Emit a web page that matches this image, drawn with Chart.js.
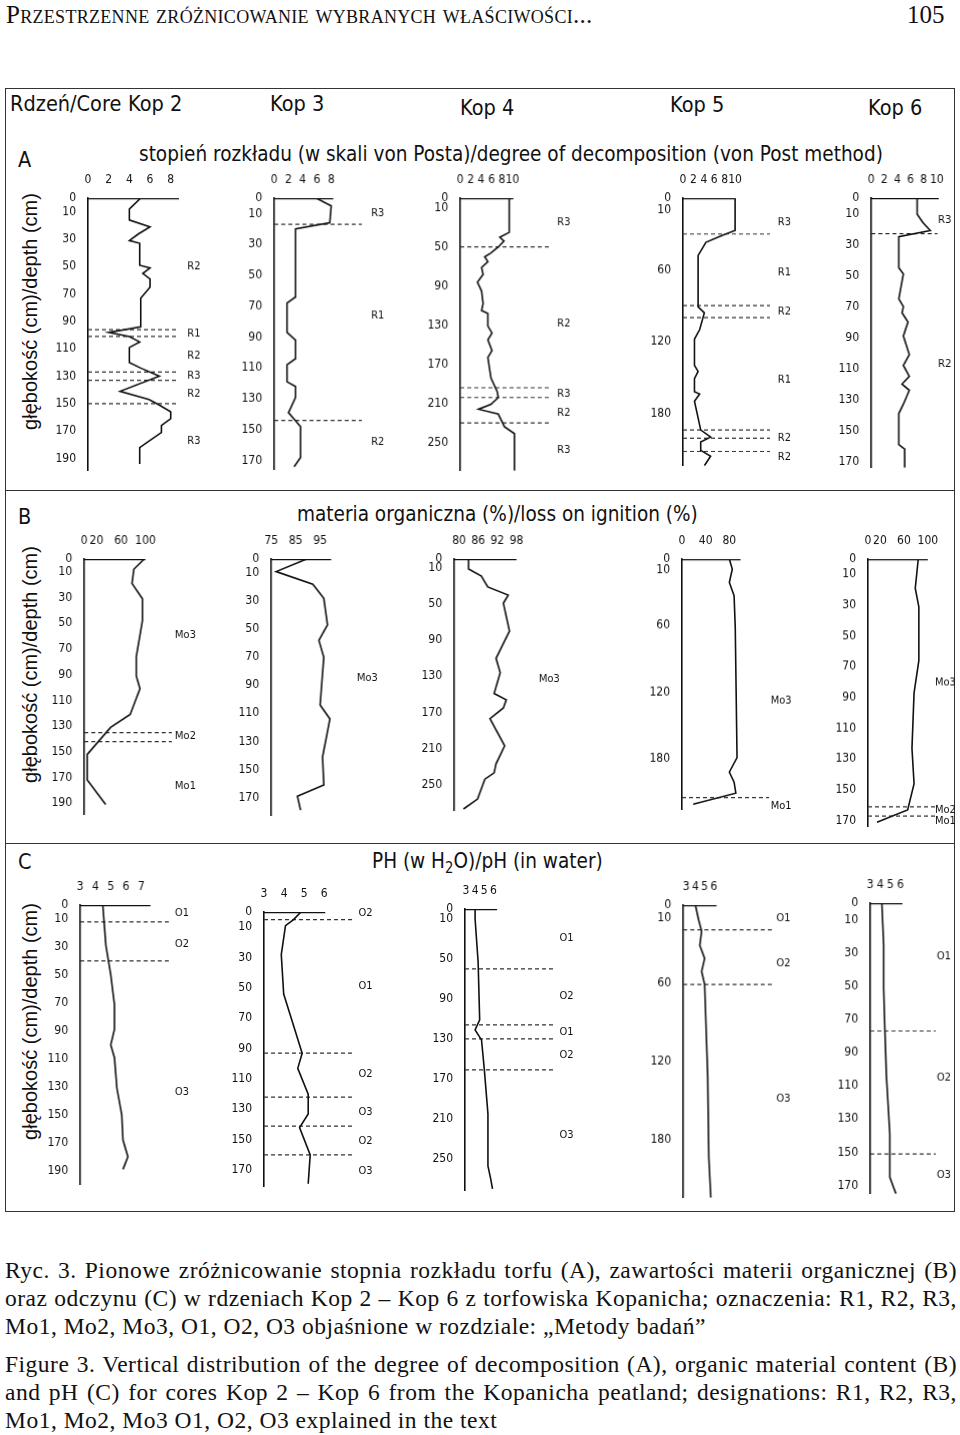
<!DOCTYPE html>
<html>
<head>
<meta charset="utf-8">
<script src="https://cdn.jsdelivr.net/npm/chart.js@4.4.7/dist/chart.umd.min.js"></script>
<style>
  body { margin: 0; width: 960px; height: 1435px; background: #fff; position: relative; overflow: hidden; }
  .abs { position: absolute; white-space: nowrap; color: #111; }
  .cond { font-family: "DejaVu Sans", sans-serif; transform: scaleX(0.88); transform-origin: left top; }
  .serif { font-family: "Liberation Serif", "DejaVu Serif", serif; }
  .rot { font-family: "Liberation Sans", sans-serif; font-size: 20px; transform: rotate(-90deg); transform-origin: center; width: 260px; text-align: center; }
  canvas { position: absolute; }
  #frame { position: absolute; left: 5px; top: 88px; width: 950px; height: 1124px; border: 1.5px solid #333; box-sizing: border-box; }
  .sep { position: absolute; left: 5px; width: 950px; border-top: 1.5px solid #333; }
  .cap { font-family: "Liberation Serif", "DejaVu Serif", serif; font-size: 23.5px; letter-spacing: 0.5px; line-height: 28px; color: #111; position: absolute; left: 5px; width: 952px; text-align: justify; }
</style>
</head>
<body>
<div class="abs serif" style="left:6px;top:1px;font-size:25px;font-variant:small-caps;letter-spacing:0.3px">Przestrzenne zróżnicowanie wybranych właściwości...</div>
<div class="abs serif" style="left:907px;top:1px;font-size:25px">105</div>
<div id="frame"></div>
<div class="sep" style="top:490px"></div>
<div class="sep" style="top:843px"></div>

<div class="abs cond" style="left:10px;top:91px;font-size:22px">Rdzeń/Core</div>
<div class="abs cond" style="left:128px;top:91px;font-size:22px">Kop 2</div>
<div class="abs cond" style="left:270px;top:91px;font-size:22px">Kop 3</div>
<div class="abs cond" style="left:460px;top:95px;font-size:22px">Kop 4</div>
<div class="abs cond" style="left:670px;top:92px;font-size:22px">Kop 5</div>
<div class="abs cond" style="left:868px;top:95px;font-size:22px">Kop 6</div>

<div class="abs cond" style="left:18px;top:147px;font-size:22px">A</div>
<div class="abs cond" style="left:139px;top:142px;font-size:21px">stopień rozkładu (w skali von Posta)/degree of decomposition (von Post method)</div>
<div class="abs cond" style="left:18px;top:504px;font-size:22px">B</div>
<div class="abs cond" style="left:297px;top:502px;font-size:21px">materia organiczna (%)/loss on ignition (%)</div>
<div class="abs cond" style="left:18px;top:849px;font-size:22px">C</div>
<div class="abs cond" style="left:372px;top:849px;font-size:21px">PH (w H<sub style="font-size:15px">2</sub>O)/pH (in water)</div>

<div class="abs rot" style="left:-100px;top:300px">głębokość (cm)/depth (cm)</div>
<div class="abs rot" style="left:-100px;top:653px">głębokość (cm)/depth (cm)</div>
<div class="abs rot" style="left:-100px;top:1010px">głębokość (cm)/depth (cm)</div>

<div class="cap" style="top:1256px">Ryc. 3. Pionowe zróżnicowanie stopnia rozkładu torfu (A), zawartości materii organicznej (B) oraz odczynu (C) w rdzeniach Kop 2 – Kop 6 z torfowiska Kopanicha; oznaczenia: R1, R2, R3, Mo1, Mo2, Mo3, O1, O2, O3 objaśnione w rozdziale: „Metody badań”</div>
<div class="cap" style="top:1350px">Figure 3. Vertical distribution of the degree of decomposition (A), organic material content (B) and pH (C) for cores Kop 2 – Kop 6 from the Kopanicha peatland; designations: R1, R2, R3, Mo1, Mo2, Mo3 O1, O2, O3 explained in the text</div>

<script>
// ---- Row A: degree of decomposition ----
const a2Depth = [0,8,16,21,26,31,33,49,51,55,59,65,73,94,98,101,105,109,120,124,130,141,147,151,156,161,166,171,182,194];
const a2Value = [5.1,4,4,6,4.9,4,5,5,6,5.3,6,6,5.1,5.1,2,4,5,4,4,5.1,6.9,3.1,5.9,6.9,8,8,7.1,7.1,5,5];
const a2Bounds = [96,101,127,133,150];
const a2Zones = ['R2','R1','R2','R3','R2','R3'];
const a2ZoneDepths = [50,99,115,130,143,177];
const a2XTicks = [0,2,4,6,8];
const a2YTicks = [0,10,30,50,70,90,110,130,150,170,190];

const a3Depth = [0,5,16,20,64,68,87,92,104,108,119,122,129,139,148,168,174];
const a3Value = [5.9,8,7.8,3,3,1.8,1.8,3,3,1.8,1.8,3,3,2,3.7,3.7,2.8];
const a3Bounds = [17,144];
const a3Zones = ['R3','R1','R2'];
const a3ZoneDepths = [10,76,158];
const a3XTicks = [0,2,4,6,8];
const a3YTicks = [0,10,30,50,70,90,110,130,150,170];

const a4Depth = [0,35,40,44,50,56,60,65,71,78,86,95,108,115,118,131,138,145,156,163,184,198,204,211,216,221,234,241,279];
const a4Value = [9.4,9.4,7.6,8.4,7.3,5.9,4.7,5.3,4.1,4.4,3.3,4.1,4.4,4.1,5.3,5.3,6.1,5.3,6.1,5.3,5.9,7.1,7.3,5.9,3.5,7.3,8.5,10.4,10.4];
const a4Bounds = [50,194,204,230];
const a4Zones = ['R3','R2','R3','R2','R3'];
const a4ZoneDepths = [25,128,200,220,258];
const a4XTicks = [0,2,4,6,8,10];
const a4YTicks = [0,10,50,90,130,170,210,250];

const a5Depth = [0,27,31,37,48,91,96,110,118,140,145,151,162,164,170,184,194,200,204,211,216,224];
const a5Value = [10,10,7.6,4.4,2.9,2.9,4.1,3.2,2.2,2.2,2.9,2.2,2.2,3.2,2.2,2.9,3.4,5.3,3.4,3.4,5.3,4.1];
const a5Bounds = [30,90,100,194,201,212];
const a5Zones = ['R3','R1','R2','R1','R2','R2'];
const a5ZoneDepths = [20,62,95,152,201,217];
const a5XTicks = [0,2,4,6,8,10];
const a5YTicks = [0,10,60,120,180];

const a6Depth = [0,10.5,16,21,25,45,49,65,70,74,80,89,101,108,115,120,124,133,139,159,162,174];
const a6Value = [7,7,7.9,9,4.2,4.2,4.9,4.2,4.9,4.7,5.6,4.9,5.8,4.9,5.8,4.7,5.8,4.9,4.2,4.2,5.1,5.1];
const a6Bounds = [23];
const a6Zones = ['R3','R2'];
const a6ZoneDepths = [14,107];
const a6XTicks = [0,2,4,6,8,10];
const a6YTicks = [0,10,30,50,70,90,110,130,150,170];

// ---- Row B: loss on ignition ----
const b2Depth = [0,8,19,31,48,76,91,101,121,131,152,172,191];
const b2Value = [98,81,78,95,95,85,85,91,75,43,5,5,35];
const b2Bounds = [135,142];
const b2Zones = ['Mo3','Mo2','Mo1'];
const b2ZoneDepths = [59,138,177];
const b2XTicks = [0,20,60,100];
const b2YTicks = [0,10,30,50,70,90,110,130,150,170,190];

const b3Depth = [0,9,18,28,47,58,70,104,114,141,161,169,179];
const b3Value = [89.5,77,92,96.5,98,94.5,96.5,95,99,96,96.5,85.7,87];
const b3Bounds = [];
const b3Zones = ['Mo3'];
const b3ZoneDepths = [85];
const b3XTicks = [75,85,95];
const b3YTicks = [0,10,30,50,70,90,110,130,150,170];

const b4Depth = [0,11,19,31,40,49,80,110,126,149,156,165,177,207,227,237,244,266,277];
const b4Value = [83,83,87,89,95.4,93.9,95.8,91.6,92.9,91,94.8,93.9,89.7,94.3,91.6,91,88.1,85.8,81.4];
const b4Bounds = [];
const b4Zones = ['Mo3'];
const b4ZoneDepths = [133];
const b4XTicks = [80,86,92,98];
const b4YTicks = [0,10,50,90,130,170,210,250];

const b5Depth = [0,9,21,33,62,179,192,201,211,221];
const b5Value = [80,85,80,88,90,93,80,88,91,19];
const b5Bounds = [215];
const b5Zones = ['Mo3','Mo1'];
const b5ZoneDepths = [128,223];
const b5XTicks = [0,40,80];
const b5YTicks = [0,10,60,120,180];

const b6Depth = [0,19,31,66,87,123,146,163,171];
const b6Value = [84,79,85,85,77,73.5,77,66.3,15];
const b6Bounds = [161,167];
const b6Zones = ['Mo3','Mo2','Mo1'];
const b6ZoneDepths = [80,163,170];
const b6XTicks = [0,20,60,100];
const b6YTicks = [0,10,30,50,70,90,110,130,150,170];

// ---- Row C: pH in water ----
const c2Depth = [0,29,50,71,89,100,109,131,150,168,180,189];
const c2Value = [4.48,4.68,5,5.24,5.24,5,5.24,5.4,5.72,5.8,6.12,5.8];
const c2Bounds = [12,40];
const c2Zones = ['O1','O2','O3'];
const c2ZoneDepths = [6,28,134];
const c2XTicks = [3,4,5,6,7];
const c2YTicks = [0,10,30,50,70,90,110,130,150,170,190];

const c3Depth = [0,5,9,28,54,71,93,103,120,133,142,160,179];
const c3Value = [4.84,4.47,4.07,3.86,3.98,4.38,4.9,4.68,5.2,5.2,4.77,5.3,5.2];
const c3Bounds = [5,93,122,141,160];
const c3Zones = ['O2','O1','O2','O3','O2','O3'];
const c3ZoneDepths = [1,49,107,132,151,171];
const c3XTicks = [3,4,5,6];
const c3YTicks = [0,10,30,50,70,90,110,130,150,170];

const c4Depth = [0,10,53,111,121,131,160,205,257,270,280];
const c4Value = [4,4,4.33,4.5,4,4.7,5,5.4,5.4,5.7,5.9];
const c4Bounds = [60,116,130,161];
const c4Zones = ['O1','O2','O1','O2','O3'];
const c4ZoneDepths = [29,87,123,146,226];
const c4XTicks = [3,4,5,6];
const c4YTicks = [0,10,50,90,130,170,210,250];

const c5Depth = [0,11,20,31,41,51,61,131,194,225];
const c5Value = [4,4.33,4.67,4.47,5,4.67,5,5.33,5.45,5.67];
const c5Bounds = [19,61];
const c5Zones = ['O1','O2','O3'];
const c5ZoneDepths = [10,45,149];
const c5XTicks = [3,4,5,6];
const c5YTicks = [0,10,60,120,180];

const c6Depth = [0,25,51,76,104,139,165,175];
const c6Value = [4.15,4.33,4.33,4.45,4.6,4.94,4.94,5.55];
const c6Bounds = [77,151];
const c6Zones = ['O1','O2','O3'];
const c6ZoneDepths = [32,105,164];
const c6XTicks = [3,4,5,6];
const c6YTicks = [0,10,30,50,70,90,110,130,150,170];

// layout: ax/ay = page pixel of (xMin, depth 0), sx/sy = px per unit, axisEnd = end of top bar,
// dashEnd = end of dashed lines, labelX = x value for zone labels, yMax = bottom depth
const panels = [
  {d:a2Depth,v:a2Value,b:a2Bounds,z:a2Zones,zd:a2ZoneDepths,xt:a2XTicks,yt:a2YTicks, ax:88,ay:198,sx:10.37,sy:1.407,xMin:0,axisEnd:8.8,dashEnd:8.7,labelX:9.6,yMax:199},
  {d:a3Depth,v:a3Value,b:a3Bounds,z:a3Zones,zd:a3ZoneDepths,xt:a3XTicks,yt:a3YTicks, ax:274,ay:198,sx:7.12,sy:1.583,xMin:0,axisEnd:8.3,dashEnd:12.3,labelX:13.6,yMax:176},
  {d:a4Depth,v:a4Value,b:a4Bounds,z:a4Zones,zd:a4ZoneDepths,xt:a4XTicks,yt:a4YTicks, ax:460,ay:198,sx:5.21,sy:1.003,xMin:0,axisEnd:10.2,dashEnd:17,labelX:18.6,yMax:279},
  {d:a5Depth,v:a5Value,b:a5Bounds,z:a5Zones,zd:a5ZoneDepths,xt:a5XTicks,yt:a5YTicks, ax:683,ay:198,sx:5.21,sy:1.227,xMin:0,axisEnd:10,dashEnd:16.7,labelX:18.2,yMax:224},
  {d:a6Depth,v:a6Value,b:a6Bounds,z:a6Zones,zd:a6ZoneDepths,xt:a6XTicks,yt:a6YTicks, ax:871,ay:198,sx:6.56,sy:1.593,xMin:0,axisEnd:10.3,dashEnd:10.1,labelX:10.2,yMax:174},

  {d:b2Depth,v:b2Value,b:b2Bounds,z:b2Zones,zd:b2ZoneDepths,xt:b2XTicks,yt:b2YTicks, ax:84,ay:559,sx:0.613,sy:1.324,xMin:0,axisEnd:100,dashEnd:143,labelX:148,yMax:199},
  {d:b3Depth,v:b3Value,b:b3Bounds,z:b3Zones,zd:b3ZoneDepths,xt:b3XTicks,yt:b3YTicks, ax:271,ay:559,sx:2.45,sy:1.445,xMin:75,axisEnd:99.5,dashEnd:110,labelX:110,yMax:183},
  {d:b4Depth,v:b4Value,b:b4Bounds,z:b4Zones,zd:b4ZoneDepths,xt:b4XTicks,yt:b4YTicks, ax:454,ay:559,sx:3.2,sy:0.93,xMin:78.5,axisEnd:98,dashEnd:105,labelX:105,yMax:279},
  {d:b5Depth,v:b5Value,b:b5Bounds,z:b5Zones,zd:b5ZoneDepths,xt:b5XTicks,yt:b5YTicks, ax:682,ay:559,sx:0.595,sy:1.14,xMin:0,axisEnd:99,dashEnd:147,labelX:150,yMax:226},
  {d:b6Depth,v:b6Value,b:b6Bounds,z:b6Zones,zd:b6ZoneDepths,xt:b6XTicks,yt:b6YTicks, ax:868,ay:559,sx:0.6,sy:1.578,xMin:0,axisEnd:100,dashEnd:112,labelX:112,yMax:174},

  {d:c2Depth,v:c2Value,b:c2Bounds,z:c2Zones,zd:c2ZoneDepths,xt:c2XTicks,yt:c2YTicks, ax:80,ay:905,sx:15.3,sy:1.435,xMin:3,axisEnd:7.6,dashEnd:8.8,labelX:9.2,yMax:200},
  {d:c3Depth,v:c3Value,b:c3Bounds,z:c3Zones,zd:c3ZoneDepths,xt:c3XTicks,yt:c3YTicks, ax:264,ay:912,sx:20.1,sy:1.56,xMin:3,axisEnd:6.05,dashEnd:7.43,labelX:7.7,yMax:181},
  {d:c4Depth,v:c4Value,b:c4Bounds,z:c4Zones,zd:c4ZoneDepths,xt:c4XTicks,yt:c4YTicks, ax:465,ay:909,sx:9.2,sy:1.025,xMin:2.9,axisEnd:6.4,dashEnd:12.6,labelX:13.2,yMax:282},
  {d:c5Depth,v:c5Value,b:c5Bounds,z:c5Zones,zd:c5ZoneDepths,xt:c5XTicks,yt:c5YTicks, ax:683,ay:905,sx:9.2,sy:1.333,xMin:2.67,axisEnd:6.3,dashEnd:12.3,labelX:12.8,yMax:225},
  {d:c6Depth,v:c6Value,b:c6Bounds,z:c6Zones,zd:c6ZoneDepths,xt:c6XTicks,yt:c6YTicks, ax:870,ay:903,sx:10.1,sy:1.70,xMin:3,axisEnd:6.2,dashEnd:9.5,labelX:9.6,yMax:175}
];

const FONT = '"DejaVu Sans Condensed", "DejaVu Sans", sans-serif';
const LEFT = 34, TOP = 26, RIGHT = 34;

const zoneLabels = {
  id: 'zoneLabels',
  afterDraw(chart) {
    const p = chart.options.plugins.zoneLabels;
    const ctx = chart.ctx, xs = chart.scales.x, ys = chart.scales.y;
    ctx.save();
    ctx.font = '11px ' + FONT;
    ctx.fillStyle = '#111';
    ctx.textAlign = 'left';
    ctx.textBaseline = 'middle';
    p.names.forEach((n, i) => ctx.fillText(n, xs.getPixelForValue(p.x), ys.getPixelForValue(p.depths[i])));
    ctx.restore();
  }
};

panels.forEach(p => {
  const xMax = Math.max(p.dashEnd, p.axisEnd);
  const w = LEFT + RIGHT + (xMax - p.xMin) * p.sx;
  const h = TOP + p.yMax * p.sy + 4;
  const cv = document.createElement('canvas');
  cv.style.left = (p.ax - LEFT) + 'px';
  cv.style.top = (p.ay - TOP) + 'px';
  cv.style.width = w + 'px';
  cv.style.height = h + 'px';
  document.body.appendChild(cv);

  const datasets = [{
    data: p.d.map((d, i) => ({x: p.v[i], y: d})),
    borderColor: '#111', borderWidth: 1.6, pointRadius: 0, tension: 0
  }, {
    data: [{x: p.xMin, y: 0}, {x: p.axisEnd, y: 0}],
    borderColor: '#111', borderWidth: 2.6, pointRadius: 0
  }];
  p.b.forEach(d => datasets.push({
    data: [{x: p.xMin, y: d}, {x: p.dashEnd, y: d}],
    borderColor: '#333', borderWidth: 1.2, borderDash: [4, 3], pointRadius: 0
  }));

  new Chart(cv, {
    type: 'line',
    data: {datasets},
    options: {
      responsive: false,
      maintainAspectRatio: false,
      animation: false,
      layout: {padding: {right: RIGHT, bottom: 4}},
      plugins: {
        legend: {display: false}, tooltip: {enabled: false},
        zoneLabels: {names: p.z, depths: p.zd, x: p.labelX}
      },
      scales: {
        x: {
          type: 'linear', position: 'top', min: p.xMin, max: xMax,
          grid: {display: false}, border: {display: false},
          afterBuildTicks: s => { s.ticks = p.xt.map(v => ({value: v})); },
          afterFit: s => { s.height = TOP; },
          ticks: {font: {family: FONT, size: 12}, color: '#111', padding: 3, maxRotation: 0, autoSkip: false}
        },
        y: {
          type: 'linear', reverse: true, min: 0, max: p.yMax,
          grid: {display: false}, border: {display: true, color: '#111', width: 1.6},
          afterBuildTicks: s => { s.ticks = p.yt.map(v => ({value: v})); },
          afterFit: s => { s.width = LEFT; },
          ticks: {font: {family: FONT, size: 12}, color: '#111', padding: 4, autoSkip: false}
        }
      }
    },
    plugins: [zoneLabels]
  });
  cv.style.left = (p.ax - LEFT) + 'px';
  cv.style.top = (p.ay - TOP) + 'px';
});
</script>
</body>
</html>
